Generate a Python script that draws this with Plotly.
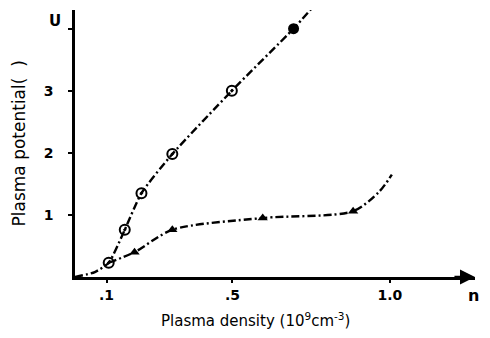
import plotly.graph_objects as go

# Circle series (open circles with dot), curve through origin
circ_curve_x = [0.0, 0.063, 0.107, 0.158, 0.211, 0.309, 0.498, 0.694, 0.754]
circ_curve_y = [0.0, 0.08, 0.23, 0.76, 1.35, 1.98, 3.0, 4.0, 4.34]
circ_pts_x = [0.107, 0.158, 0.211, 0.309, 0.498]
circ_pts_y = [0.23, 0.76, 1.35, 1.98, 3.0]
circ_fill_x = [0.694]
circ_fill_y = [4.0]

# Triangle series
tri_curve_x = [0.107, 0.189, 0.309, 0.596, 0.883, 0.965, 1.006]
tri_curve_y = [0.23, 0.40, 0.76, 0.95, 1.06, 1.37, 1.65]
tri_pts_x = [0.189, 0.309, 0.596, 0.883]
tri_pts_y = [0.40, 0.76, 0.95, 1.06]

x_tickvals = [0.1, 0.5, 1.0]
x_ticktext = ["<b>.1</b>", "<b>.5</b>", "<b>1.0</b>"]
y_tickvals = [1, 2, 3, 4]
y_ticktext = ["<b>1</b>", "<b>2</b>", "<b>3</b>", " "]

FONT = "DejaVu Sans"
dash = "8px,3px,2px,3px"

fig = go.Figure()
fig.add_trace(go.Scatter(x=circ_curve_x, y=circ_curve_y, mode="lines",
                         line=dict(color="black", width=2.4, dash=dash, shape="spline", smoothing=0.6),
                         hoverinfo="skip"))
fig.add_trace(go.Scatter(x=tri_curve_x, y=tri_curve_y, mode="lines",
                         line=dict(color="black", width=2.4, dash=dash, shape="spline", smoothing=0.8),
                         hoverinfo="skip"))
fig.add_trace(go.Scatter(x=circ_pts_x, y=circ_pts_y, mode="markers",
                         marker=dict(symbol="circle-open-dot", size=10, color="black", line=dict(width=2))))
fig.add_trace(go.Scatter(x=circ_fill_x, y=circ_fill_y, mode="markers",
                         marker=dict(symbol="circle", size=11, color="black")))
fig.add_trace(go.Scatter(x=tri_pts_x, y=tri_pts_y, mode="markers",
                         marker=dict(symbol="triangle-up", size=9, color="black")))

fig.update_layout(
    width=474, height=322,
    margin=dict(l=67, r=7, t=2, b=53),
    paper_bgcolor="white", plot_bgcolor="white",
    showlegend=False,
    font=dict(family=FONT, color="black"),
    xaxis=dict(range=[0, 1.27], showgrid=False, zeroline=False,
               showline=True, linecolor="black", linewidth=2.5,
               tickvals=x_tickvals, ticktext=x_ticktext,
               ticks="outside", ticklen=3, tickwidth=2, tickcolor="black",
               tickfont=dict(size=14, family=FONT)),
    yaxis=dict(range=[0, 4.3], showgrid=False, zeroline=False,
               showline=True, linecolor="black", linewidth=2.5,
               tickvals=y_tickvals, ticktext=y_ticktext,
               ticks="outside", ticklen=4, tickwidth=2, tickcolor="black",
               ticklabelstandoff=12,
               tickfont=dict(size=14, family=FONT)),
    annotations=[
        dict(x=1.27, y=0, ax=1.2, ay=0, xref="x", yref="y", axref="x", ayref="y",
             showarrow=True, arrowhead=2, arrowsize=1.2, arrowwidth=2.5, arrowcolor="black", text=""),
        dict(x=-0.05, y=1.0, xref="paper", yref="paper", text="<b>U</b>", showarrow=False,
             font=dict(size=15, family=FONT), xanchor="center", yanchor="top"),
        dict(x=1.015, y=-0.071, xref="paper", yref="paper", text="<b>n</b>", showarrow=False,
             font=dict(size=16, family=FONT), xanchor="right", yanchor="middle"),
        dict(x=0.45, y=-0.16, xref="paper", yref="paper",
             text="Plasma density (10<sup>9</sup>cm<sup>-3</sup>)", showarrow=False,
             font=dict(size=15, family=FONT), xanchor="center", yanchor="middle"),
        dict(x=-0.1425, y=0.50, xref="paper", yref="paper", text="Plasma potential(  )",
             showarrow=False, textangle=-90,
             font=dict(size=17, family=FONT), xanchor="center", yanchor="middle"),
    ],
)

fig.write_html("out.html")
